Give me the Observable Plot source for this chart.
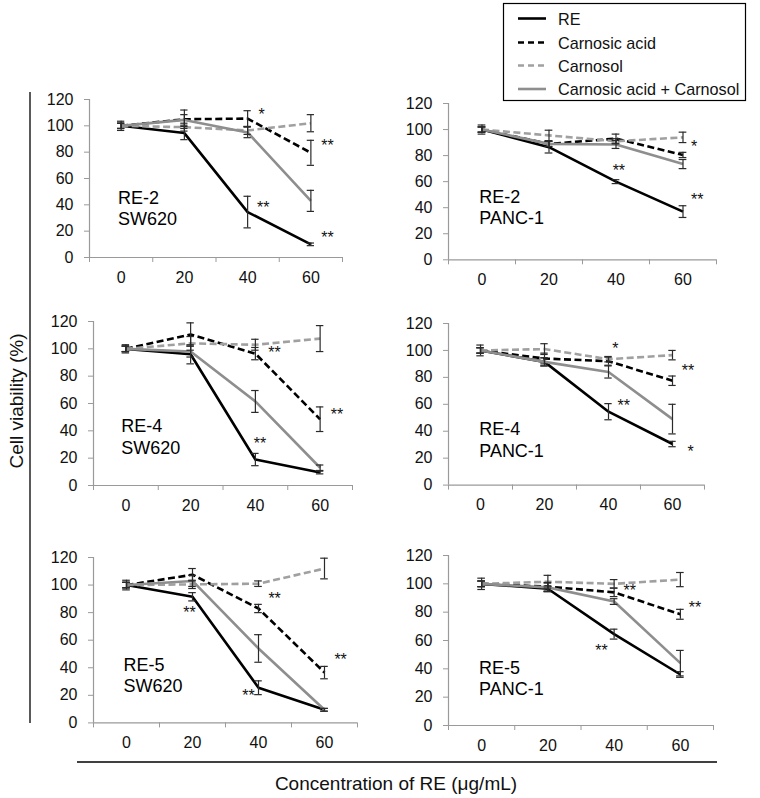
<!DOCTYPE html>
<html><head><meta charset="utf-8">
<script src="https://cdn.jsdelivr.net/npm/d3@7"></script>
<script src="https://cdn.jsdelivr.net/npm/@observablehq/plot@0.6"></script>
<style>
body{margin:0;background:#fff;font-family:"Liberation Sans",Arial,sans-serif;}
#root{position:relative;width:760px;height:798px;overflow:hidden;}
.abs{position:absolute;}
</style>
</head><body><div id="root"></div>
<script>
// ---------- data ----------
const concentrations = [0, 20, 40, 60];
const edgeTicks = [-10, 10, 30, 50, 70];
const yTickValues = [0, 20, 40, 60, 80, 100, 120];
const seriesNames = ["RE", "Carnosic acid", "Carnosol", "Carnosic acid + Carnosol"];
const panelLabels = ["RE-2\nSW620", "RE-2\nPANC-1", "RE-4\nSW620", "RE-4\nPANC-1", "RE-5\nSW620", "RE-5\nPANC-1"];
const panelLabelAnchors = [[-1, 38], [-0.8, 41], [-1.4, 36], [-0.4, 34], [-0.9, 34.7], [-0.8, 33.5]];

// means: [RE, Carnosic acid, Carnosol, Combination] x concentrations
const re2_SW620_mean = [[100, 94.5, 34.5, 10], [100, 105, 105.5, 79.5], [100, 99, 96.5, 102], [100, 104.5, 95, 43]];
const re2_SW620_err  = [[3.5, 5, 12, 1], [2, 7, 6, 9.5], [2, 3, 3, 6.5], [2, 4, 4, 8]];
const re2_SW620_stars = [[43.4, 108.5, "*"], [63.3, 84.5, "**"], [43, 38, "**"], [63.3, 15, "**"]];

const re2_PANC1_mean = [[100, 86.5, 60, 37], [100, 89, 93, 80.5], [100, 95.5, 91, 94], [100, 89, 88.5, 73.5]];
const re2_PANC1_err  = [[3.5, 4.5, 1.5, 4.5], [2, 2, 3.5, 2], [2, 4, 2, 4], [2, 2, 3, 3.5]];
const re2_PANC1_stars = [[62.4, 87, "*"], [39, 68.5, "**"], [62.4, 46, "**"]];

const re4_SW620_mean = [[100, 96, 19, 9.5], [100, 110.5, 96.5, 48.5], [100, 104, 103, 107.5], [100, 98, 61.5, 13]];
const re4_SW620_err  = [[3, 7, 4.5, 1], [2, 8.5, 4.5, 9], [2, 5, 4, 9.5], [2, 4, 8, 2]];
const re4_SW620_stars = [[44, 97, "**"], [63.3, 51.5, "**"], [39.5, 30.5, "**"]];

const re4_PANC1_mean = [[100, 91.5, 54.5, 30.5], [100, 94, 92, 77.5], [100, 101, 93.5, 96.5], [100, 91.5, 84, 49]];
const re4_PANC1_err  = [[4, 3, 6, 2], [2, 4, 3, 3.5], [2, 4, 2, 3.5], [2, 3, 4.5, 11]];
const re4_PANC1_stars = [[41.2, 101.5, "*"], [62.9, 85, "**"], [42.8, 58.5, "**"], [64.7, 25, "*"]];

const re5_SW620_mean = [[100, 91.5, 25.5, 9.5], [100, 107.5, 83, 36.5], [100, 100.5, 101, 112], [100, 103, 54, 9.5]];
const re5_SW620_err  = [[3.5, 3, 5, 1], [2, 4.5, 3, 4.5], [2, 3, 2, 7.5], [2, 4, 10, 1]];
const re5_SW620_stars = [[17.2, 80, "**"], [43, 90, "**"], [63, 45.5, "**"], [35.1, 19.5, "**"]];

const re5_PANC1_mean = [[100, 96.5, 64.5, 36], [100, 98, 94, 78.5], [100, 101.5, 100, 103], [100, 97.5, 87.5, 44]];
const re5_PANC1_err  = [[4, 2, 3.5, 2], [2, 3, 3, 3.5], [2, 4.5, 3, 5], [2, 3, 2, 9]];
const re5_PANC1_stars = [[42.8, 95, "**"], [62.5, 83, "**"], [34.3, 53, "**"]];

// ---------- styles / layout ----------
const FONT = "'Liberation Sans', Arial, sans-serif";
const axisGray = "#9a9a9a";
const seriesStyle = [
  {stroke: "#000", dash: null},
  {stroke: "#000", dash: "7,3.5"},
  {stroke: "#a0a0a0", dash: "7,3.5"},
  {stroke: "#8e8e8e", dash: null}
];
// plot area in page pixels: [left, right, top(y=120), bottom(y=0)]
const layouts = [
  [89, 342, 99, 257], [448, 716, 102.7, 259],
  [93, 352, 321, 485], [448, 704, 322.7, 484.3],
  [93, 357, 557.3, 722.7], [448, 713, 555, 725]
];
const panels = [
  [re2_SW620_mean, re2_SW620_err, re2_SW620_stars],
  [re2_PANC1_mean, re2_PANC1_err, re2_PANC1_stars],
  [re4_SW620_mean, re4_SW620_err, re4_SW620_stars],
  [re4_PANC1_mean, re4_PANC1_err, re4_PANC1_stars],
  [re5_SW620_mean, re5_SW620_err, re5_SW620_stars],
  [re5_PANC1_mean, re5_PANC1_err, re5_PANC1_stars]
];

const root = document.getElementById("root");
const mL = 50, mR = 44, mT = 12, mB = 34;

panels.forEach(([mean, err, stars], p) => {
  const [L, R, T, B] = layouts[p];
  const rows = [];
  seriesNames.forEach((s, si) => concentrations.forEach((c, i) =>
    rows.push({series: s, si, x: c, y: mean[si][i], e: err[si][i]})));
  const starRows = stars.map(([x, y, t]) => ({x, y, t}));
  const labelRow = [{x: panelLabelAnchors[p][0], y: panelLabelAnchors[p][1], t: panelLabels[p]}];

  const lineMarks = seriesNames.map((s, si) => Plot.line(rows.filter(d => d.si === si), {
    x: "x", y: "y", stroke: seriesStyle[si].stroke, strokeWidth: 2.6,
    strokeDasharray: seriesStyle[si].dash, strokeLinejoin: "round", strokeLinecap: "butt"
  }));

  const chart = Plot.plot({
    width: (R - L) + mL + mR,
    height: (B - T) + mT + mB,
    marginLeft: mL, marginRight: mR, marginTop: mT, marginBottom: mB,
    x: {domain: [-10, 70]},
    y: {domain: [0, 120]},
    style: {fontFamily: FONT, fontSize: "16px", color: "#111", background: "transparent", overflow: "visible"},
    marks: [
      Plot.ruleX([-10], {y1: 0, y2: 120, stroke: axisGray, strokeWidth: 1.2}),
      Plot.ruleY([0], {stroke: axisGray, strokeWidth: 1.2}),
      Plot.axisY({ticks: yTickValues, tickSize: 5, tickPadding: 11, stroke: axisGray, fill: "#111", fontSize: 16, label: null}),
      Plot.axisX({ticks: edgeTicks, tickSize: 5, tickFormat: () => "", stroke: axisGray, label: null}),
      Plot.axisX({ticks: concentrations, tickSize: 0, tickPadding: 14, fill: "#111", fontSize: 16, label: null}),
      ...lineMarks,
      Plot.ruleX(rows, {x: "x", y1: d => d.y - d.e, y2: d => d.y + d.e, stroke: "#2a2a2a", strokeWidth: 1.2}),
      Plot.ruleY(rows, {y: d => d.y + d.e, x1: d => d.x - 1.15, x2: d => d.x + 1.15, stroke: "#2a2a2a", strokeWidth: 1.2}),
      Plot.ruleY(rows, {y: d => d.y - d.e, x1: d => d.x - 1.15, x2: d => d.x + 1.15, stroke: "#2a2a2a", strokeWidth: 1.2}),
      Plot.text(starRows, {x: "x", y: "y", text: "t", textAnchor: "start", lineAnchor: "middle", fontSize: 16, fill: "#111"}),
      Plot.text(labelRow, {x: "x", y: "y", text: "t", textAnchor: "start", lineAnchor: "middle", fontSize: 18, lineHeight: 1.18, fill: "#000"})
    ]
  });
  chart.classList.add("abs");
  chart.style.left = (L - mL) + "px";
  chart.style.top = (T - mT) + "px";
  root.appendChild(chart);
});

// ---------- legend, frame lines, axis titles ----------
const ns = "http://www.w3.org/2000/svg";
const overlay = document.createElementNS(ns, "svg");
overlay.setAttribute("width", 760);
overlay.setAttribute("height", 798);
overlay.setAttribute("class", "abs");
overlay.style.left = "0px"; overlay.style.top = "0px";
overlay.style.pointerEvents = "none";
function el(tag, attrs, text) {
  const e = document.createElementNS(ns, tag);
  for (const k in attrs) e.setAttribute(k, attrs[k]);
  if (text != null) e.textContent = text;
  overlay.appendChild(e);
  return e;
}
// legend box
el("rect", {x: 503.5, y: 3.5, width: 242, height: 97, fill: "#fff", stroke: "#000", "stroke-width": 1.2});
const legendY = [18.5, 42.5, 65.5, 89];
seriesNames.forEach((s, si) => {
  const st = seriesStyle[si];
  const attrs = {x1: 518, x2: 546, y1: legendY[si], y2: legendY[si], stroke: st.stroke, "stroke-width": 2.6};
  if (st.dash) attrs["stroke-dasharray"] = "6,4";
  el("line", attrs);
  el("text", {x: 558, y: legendY[si] + 6, "font-family": FONT, "font-size": 16.2, fill: "#111"}, s);
});
// bracket lines
el("line", {x1: 30, x2: 30, y1: 92, y2: 723, stroke: "#000", "stroke-width": 1.3});
el("line", {x1: 77, x2: 717, y1: 762, y2: 762, stroke: "#000", "stroke-width": 1.3});
// titles
el("text", {x: 396, y: 790, "text-anchor": "middle", "font-family": FONT, "font-size": 19, fill: "#111"}, "Concentration of RE (μg/mL)");
el("text", {x: 0, y: 0, "text-anchor": "middle", "font-family": FONT, "font-size": 19, fill: "#111",
  transform: "translate(23,401) rotate(-90)"}, "Cell viability (%)");
root.appendChild(overlay);
</script>
</body></html>
